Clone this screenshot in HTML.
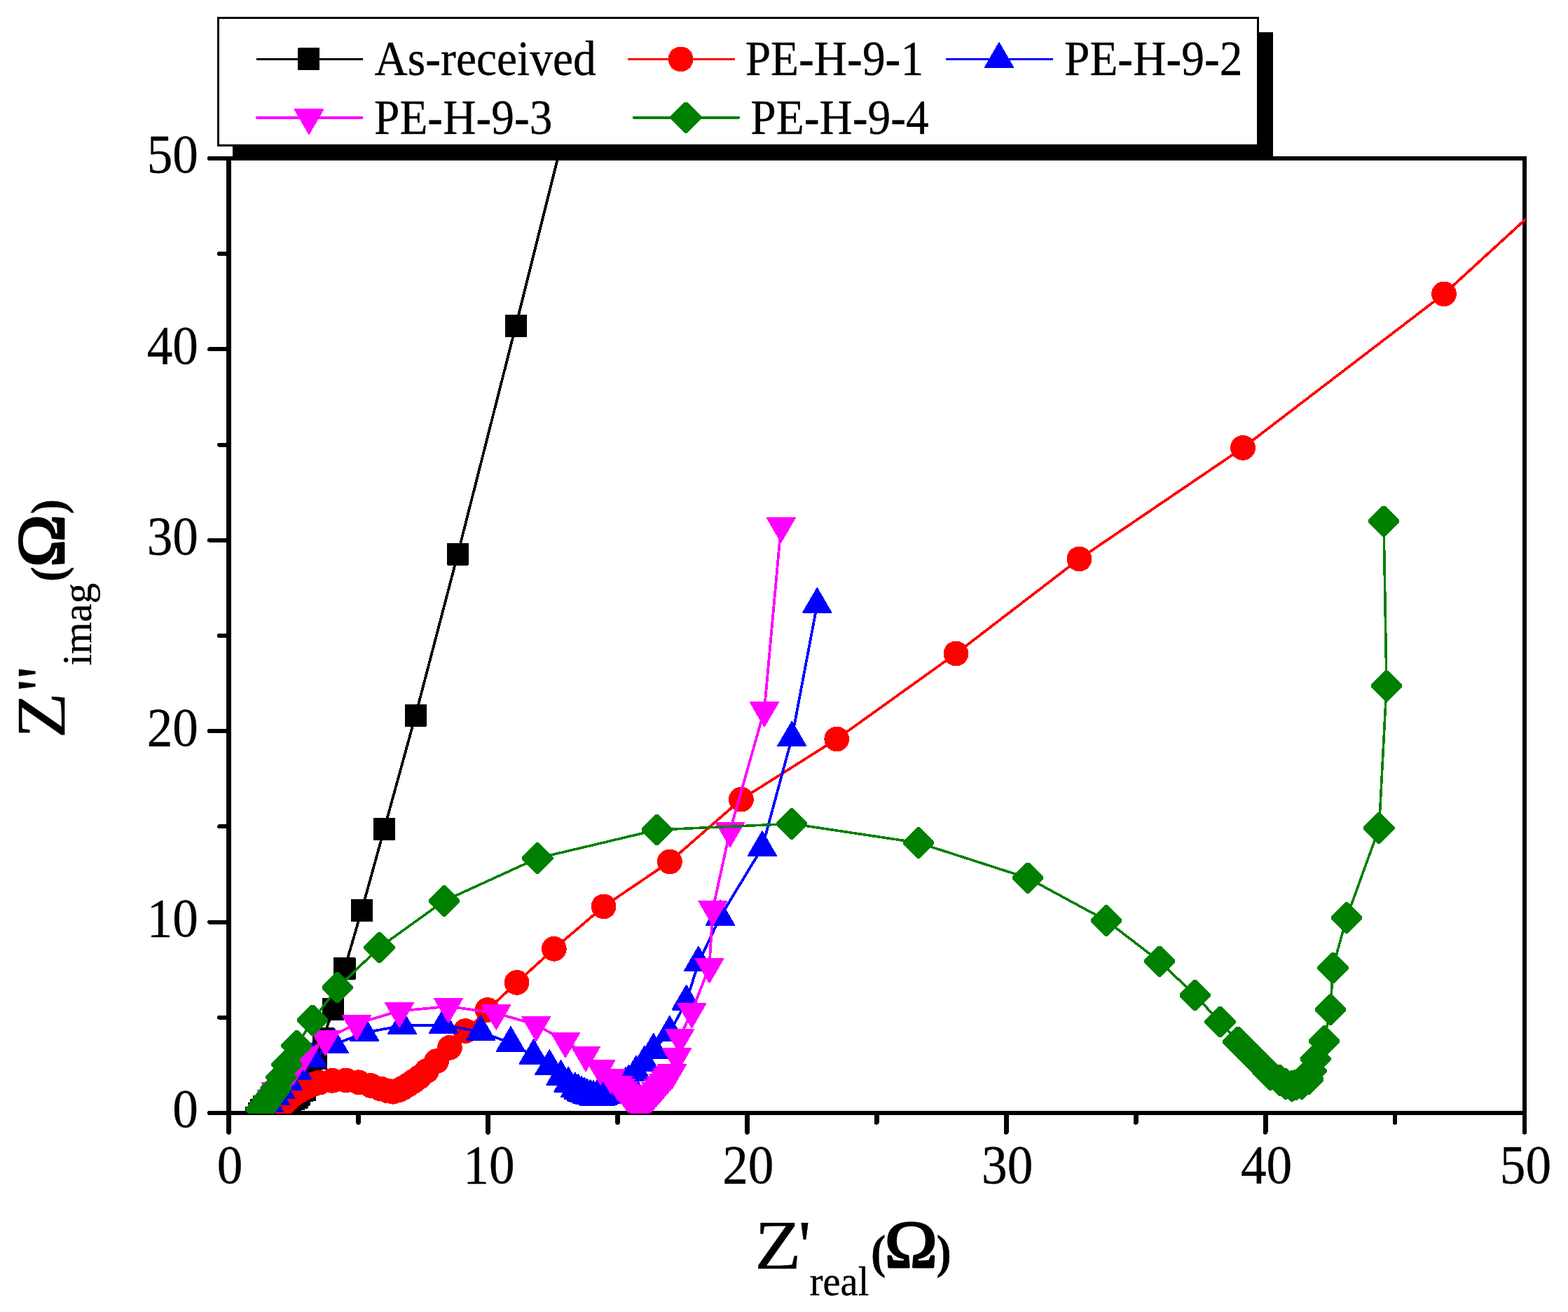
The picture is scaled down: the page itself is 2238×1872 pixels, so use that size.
<!DOCTYPE html>
<html lang="en"><head><meta charset="utf-8"><title>Nyquist plot</title>
<style>html,body{margin:0;padding:0;background:#fff;overflow:hidden}svg{display:block}text{font-family:"Liberation Serif",serif;fill:#000;stroke:#000;stroke-width:0.35px}</style>
</head><body>
<svg width="2238" height="1872" viewBox="0 0 2238 1872" role="img" aria-label="Nyquist impedance plot" shape-rendering="crispEdges">
<rect width="2238" height="1872" fill="#fff"/>
<defs><clipPath id="pc"><rect x="326.5" y="226" width="1851" height="1362.7"/></clipPath></defs>
<g stroke="#000" stroke-width="6" fill="none" stroke-linecap="butt">
<rect x="326.5" y="226" width="1849.5" height="1362"/>
</g>
<line x1="326.5" y1="223" x2="326.5" y2="1591" stroke="#000" stroke-width="7"/>
<g stroke="#000" stroke-width="6" stroke-linecap="round">
<line x1="326.5" y1="1588" x2="326.5" y2="1615.3" stroke-width="6.8"/>
<line x1="326.5" y1="1588" x2="299" y2="1588"/>
<line x1="511.4" y1="1588" x2="511.4" y2="1601.3" stroke-width="6.8"/>
<line x1="326.5" y1="1451.8" x2="313" y2="1451.8"/>
<line x1="696.4" y1="1588" x2="696.4" y2="1615.3" stroke-width="6.8"/>
<line x1="326.5" y1="1315.6" x2="299" y2="1315.6"/>
<line x1="881.4" y1="1588" x2="881.4" y2="1601.3" stroke-width="6.8"/>
<line x1="326.5" y1="1179.4" x2="313" y2="1179.4"/>
<line x1="1066.3" y1="1588" x2="1066.3" y2="1615.3" stroke-width="6.8"/>
<line x1="326.5" y1="1043.2" x2="299" y2="1043.2"/>
<line x1="1251.2" y1="1588" x2="1251.2" y2="1601.3" stroke-width="6.8"/>
<line x1="326.5" y1="907" x2="313" y2="907"/>
<line x1="1436.2" y1="1588" x2="1436.2" y2="1615.3" stroke-width="6.8"/>
<line x1="326.5" y1="770.8" x2="299" y2="770.8"/>
<line x1="1621.2" y1="1588" x2="1621.2" y2="1601.3" stroke-width="6.8"/>
<line x1="326.5" y1="634.6" x2="313" y2="634.6"/>
<line x1="1806.1" y1="1588" x2="1806.1" y2="1615.3" stroke-width="6.8"/>
<line x1="326.5" y1="498.4" x2="299" y2="498.4"/>
<line x1="1991" y1="1588" x2="1991" y2="1601.3" stroke-width="6.8"/>
<line x1="326.5" y1="362.2" x2="313" y2="362.2"/>
<line x1="2176" y1="1588" x2="2176" y2="1615.3" stroke-width="6.8"/>
<line x1="326.5" y1="226" x2="299" y2="226"/>
</g>
<g clip-path="url(#pc)">
<polyline points="365.8,1594.8 369.8,1588.8 372.8,1583.8 376.8,1578.8 381.2,1577.2 385.6,1575.6 390,1574 395,1572.8 400,1571.7 405,1570.5 409.7,1569.7 414.3,1569 419,1568.2 424.3,1565.5 427.3,1561.5 431.3,1556.3 435.3,1555 443,1534 451.1,1510.3 461.1,1481.9 475.5,1440.2 491.9,1381.9 516.2,1299 548.3,1183.3 593.1,1020.7 653.4,790.6 736.2,465 854.6,-8.6" fill="none" stroke="#000000" stroke-width="3.8" stroke-linejoin="round"/>
<g fill="#000000">
<rect x="350.2" y="1578.8" width="31.3" height="32" rx="1"/><rect x="354.2" y="1572.8" width="31.3" height="32" rx="1"/><rect x="357.2" y="1567.8" width="31.3" height="32" rx="1"/><rect x="361.2" y="1562.8" width="31.3" height="32" rx="1"/><rect x="365.6" y="1561.2" width="31.3" height="32" rx="1"/><rect x="370" y="1559.6" width="31.3" height="32" rx="1"/><rect x="374.4" y="1558" width="31.3" height="32" rx="1"/><rect x="379.4" y="1556.8" width="31.3" height="32" rx="1"/><rect x="384.4" y="1555.7" width="31.3" height="32" rx="1"/><rect x="389.4" y="1554.5" width="31.3" height="32" rx="1"/><rect x="394" y="1553.7" width="31.3" height="32" rx="1"/><rect x="398.7" y="1553" width="31.3" height="32" rx="1"/><rect x="403.4" y="1552.2" width="31.3" height="32" rx="1"/><rect x="408.7" y="1549.5" width="31.3" height="32" rx="1"/><rect x="411.7" y="1545.5" width="31.3" height="32" rx="1"/><rect x="415.7" y="1540.3" width="31.3" height="32" rx="1"/><rect x="419.7" y="1539" width="31.3" height="32" rx="1"/><rect x="427.4" y="1518" width="31.3" height="32" rx="1"/><rect x="435.5" y="1494.3" width="31.3" height="32" rx="1"/><rect x="445.5" y="1465.9" width="31.3" height="32" rx="1"/><rect x="459.9" y="1424.2" width="31.3" height="32" rx="1"/><rect x="476.2" y="1365.9" width="31.3" height="32" rx="1"/><rect x="500.6" y="1283" width="31.3" height="32" rx="1"/><rect x="532.6" y="1167.3" width="31.3" height="32" rx="1"/><rect x="577.5" y="1004.7" width="31.3" height="32" rx="1"/><rect x="637.8" y="774.6" width="31.3" height="32" rx="1"/><rect x="720.6" y="449" width="31.3" height="32" rx="1"/><rect x="839" y="-24.6" width="31.3" height="32" rx="1"/>
</g>
<polyline points="394,1586 398.3,1581.3 402.6,1576.6 407.4,1571.8 412.1,1567.1 416.9,1562.3 422,1559.4 427,1556.5 432.1,1553.6 437.5,1550.9 442.8,1548.3 449.4,1546.4 456,1544.6 474.3,1541.8 493.7,1541.4 512,1544.3 529.1,1548.9 543,1553.4 553,1556.3 561,1557.7 568.5,1555.7 575.5,1552.3 582.5,1548 590,1543 598.5,1537 609,1528 623.1,1514.1 641.9,1494.8 664.3,1471 695.7,1441 737.6,1401.9 790.8,1353.8 861.6,1293.4 955.9,1229.5 1057.9,1140.6 1194.3,1054.5 1364.5,932.5 1540.5,797.5 1774,638.9 2061,419.4 2400,109" fill="none" stroke="#ff0000" stroke-width="3.8" stroke-linejoin="round"/>
<g fill="#ff0000">
<circle cx="394" cy="1586" r="17.9"/><circle cx="398.3" cy="1581.3" r="17.9"/><circle cx="402.6" cy="1576.6" r="17.9"/><circle cx="407.4" cy="1571.8" r="17.9"/><circle cx="412.1" cy="1567.1" r="17.9"/><circle cx="416.9" cy="1562.3" r="17.9"/><circle cx="422" cy="1559.4" r="17.9"/><circle cx="427" cy="1556.5" r="17.9"/><circle cx="432.1" cy="1553.6" r="17.9"/><circle cx="437.5" cy="1550.9" r="17.9"/><circle cx="442.8" cy="1548.3" r="17.9"/><circle cx="449.4" cy="1546.4" r="17.9"/><circle cx="456" cy="1544.6" r="17.9"/><circle cx="474.3" cy="1541.8" r="17.9"/><circle cx="493.7" cy="1541.4" r="17.9"/><circle cx="512" cy="1544.3" r="17.9"/><circle cx="529.1" cy="1548.9" r="17.9"/><circle cx="543" cy="1553.4" r="17.9"/><circle cx="553" cy="1556.3" r="17.9"/><circle cx="561" cy="1557.7" r="17.9"/><circle cx="568.5" cy="1555.7" r="17.9"/><circle cx="575.5" cy="1552.3" r="17.9"/><circle cx="582.5" cy="1548" r="17.9"/><circle cx="590" cy="1543" r="17.9"/><circle cx="598.5" cy="1537" r="17.9"/><circle cx="609" cy="1528" r="17.9"/><circle cx="623.1" cy="1514.1" r="17.9"/><circle cx="641.9" cy="1494.8" r="17.9"/><circle cx="664.3" cy="1471" r="17.9"/><circle cx="695.7" cy="1441" r="17.9"/><circle cx="737.6" cy="1401.9" r="17.9"/><circle cx="790.8" cy="1353.8" r="17.9"/><circle cx="861.6" cy="1293.4" r="17.9"/><circle cx="955.9" cy="1229.5" r="17.9"/><circle cx="1057.9" cy="1140.6" r="17.9"/><circle cx="1194.3" cy="1054.5" r="17.9"/><circle cx="1364.5" cy="932.5" r="17.9"/><circle cx="1540.5" cy="797.5" r="17.9"/><circle cx="1774" cy="638.9" r="17.9"/><circle cx="2061" cy="419.4" r="17.9"/><circle cx="2400" cy="109" r="17.9"/>
</g>
<polyline points="376,1584 383.7,1574.5 392.8,1564.6 400.4,1555.5 410.8,1543.3 424,1528.1 446.1,1510.5 476.8,1490.5 520.2,1473.4 574,1463.5 633,1462.4 686.2,1472.4 729,1488.3 761.6,1506.4 784.3,1521.5 800.5,1536.2 811.2,1546.1 820.8,1553.8 825.4,1556.4 830,1559 834,1560.8 838,1562.5 842.5,1563.8 847,1565 852,1565.2 857,1565.3 861.3,1564 865.7,1562.8 870,1561.5 874.7,1558.7 879.3,1555.8 884,1553 888.5,1549.7 892.9,1546.4 897.4,1543.1 908,1530 919.8,1516.1 932.8,1498.1 955.9,1473 979.6,1429 996.9,1373.8 1028,1308.2 1087.9,1209.4 1130.3,1052.8 1166.3,862.3" fill="none" stroke="#0000ff" stroke-width="3.8" stroke-linejoin="round"/>
<g fill="#0000ff" stroke="#0000ff" stroke-width="2" stroke-linejoin="round">
<path d="M355.9 1595.5L396.1 1595.5L376 1561Z"/><path d="M363.6 1586L403.8 1586L383.7 1551.5Z"/><path d="M372.8 1576.1L412.9 1576.1L392.8 1541.6Z"/><path d="M380.3 1567L420.4 1567L400.4 1532.5Z"/><path d="M390.8 1554.8L430.9 1554.8L410.8 1520.3Z"/><path d="M403.9 1539.6L444.1 1539.6L424 1505.1Z"/><path d="M426.1 1522L466.2 1522L446.1 1487.5Z"/><path d="M456.8 1502L496.9 1502L476.8 1467.5Z"/><path d="M500.2 1484.9L540.2 1484.9L520.2 1450.4Z"/><path d="M554 1475L594 1475L574 1440.5Z"/><path d="M613 1473.9L653 1473.9L633 1439.4Z"/><path d="M666.2 1483.9L706.2 1483.9L686.2 1449.4Z"/><path d="M709 1499.8L749 1499.8L729 1465.3Z"/><path d="M741.6 1517.9L781.6 1517.9L761.6 1483.4Z"/><path d="M764.2 1533L804.3 1533L784.3 1498.5Z"/><path d="M780.5 1547.7L820.5 1547.7L800.5 1513.2Z"/><path d="M791.2 1557.6L831.2 1557.6L811.2 1523.1Z"/><path d="M800.8 1565.3L840.8 1565.3L820.8 1530.8Z"/><path d="M805.4 1567.9L845.4 1567.9L825.4 1533.4Z"/><path d="M810 1570.5L850 1570.5L830 1536Z"/><path d="M814 1572.2L854 1572.2L834 1537.8Z"/><path d="M818 1574L858 1574L838 1539.5Z"/><path d="M822.5 1575.2L862.5 1575.2L842.5 1540.8Z"/><path d="M827 1576.5L867 1576.5L847 1542Z"/><path d="M832 1576.7L872 1576.7L852 1542.2Z"/><path d="M837 1576.8L877 1576.8L857 1542.3Z"/><path d="M841.3 1575.5L881.4 1575.5L861.3 1541Z"/><path d="M845.6 1574.3L885.7 1574.3L865.7 1539.8Z"/><path d="M850 1573L890 1573L870 1538.5Z"/><path d="M854.6 1570.2L894.7 1570.2L874.7 1535.7Z"/><path d="M859.3 1567.3L899.4 1567.3L879.3 1532.8Z"/><path d="M864 1564.5L904 1564.5L884 1530Z"/><path d="M868.4 1561.2L908.5 1561.2L888.5 1526.7Z"/><path d="M872.9 1557.9L913 1557.9L892.9 1523.4Z"/><path d="M877.4 1554.6L917.4 1554.6L897.4 1520.1Z"/><path d="M888 1541.5L928 1541.5L908 1507Z"/><path d="M899.8 1527.6L939.8 1527.6L919.8 1493.1Z"/><path d="M912.8 1509.6L952.8 1509.6L932.8 1475.1Z"/><path d="M935.9 1484.5L975.9 1484.5L955.9 1450Z"/><path d="M959.6 1440.5L999.6 1440.5L979.6 1406Z"/><path d="M976.9 1385.3L1016.9 1385.3L996.9 1350.8Z"/><path d="M1008 1319.7L1048 1319.7L1028 1285.2Z"/><path d="M1067.9 1220.9L1108 1220.9L1087.9 1186.4Z"/><path d="M1110.2 1064.3L1150.3 1064.3L1130.3 1029.8Z"/><path d="M1146.2 873.8L1186.3 873.8L1166.3 839.3Z"/>
</g>
<polyline points="382,1578 388,1567.1 394,1556.1 403,1544.1 411,1534 419,1524 434.3,1505.4 464.6,1482.9 509,1460.5 570,1442.4 640,1436 708.3,1445.5 765.3,1462.2 807,1485.5 836.1,1505 857.3,1524.5 871.8,1537.1 882,1547 886,1551 890,1555 893.5,1559.8 897,1564.5 901,1566.8 905,1569 909,1570 913,1571 917,1570 921,1569 925,1566.8 929,1564.5 932.7,1560.3 936.3,1556.2 940,1552 943.3,1548 946.7,1544 950,1540 953,1536.8 956,1533.5 959,1530.3 966,1507.4 970.1,1480.3 987.4,1443.4 1012.5,1379.1 1017.4,1297.1 1042,1185.2 1090.9,1013.5 1114.8,750.3" fill="none" stroke="#ff00ff" stroke-width="3.8" stroke-linejoin="round"/>
<g fill="#ff00ff" stroke="#ff00ff" stroke-width="2" stroke-linejoin="round">
<path d="M361.9 1566.5L402.1 1566.5L382 1601Z"/><path d="M367.9 1555.6L408.1 1555.6L388 1590.1Z"/><path d="M373.9 1544.6L414.1 1544.6L394 1579.1Z"/><path d="M382.9 1532.6L423.1 1532.6L403 1567.1Z"/><path d="M390.9 1522.5L431.1 1522.5L411 1557Z"/><path d="M398.9 1512.5L439.1 1512.5L419 1547Z"/><path d="M414.2 1493.9L454.4 1493.9L434.3 1528.4Z"/><path d="M444.6 1471.4L484.7 1471.4L464.6 1505.9Z"/><path d="M488.9 1449L529 1449L509 1483.5Z"/><path d="M550 1430.9L590 1430.9L570 1465.4Z"/><path d="M620 1424.5L660 1424.5L640 1459Z"/><path d="M688.2 1434L728.3 1434L708.3 1468.5Z"/><path d="M745.2 1450.7L785.3 1450.7L765.3 1485.2Z"/><path d="M787 1474L827 1474L807 1508.5Z"/><path d="M816.1 1493.5L856.1 1493.5L836.1 1528Z"/><path d="M837.2 1513L877.3 1513L857.3 1547.5Z"/><path d="M851.8 1525.6L891.8 1525.6L871.8 1560.1Z"/><path d="M862 1535.5L902 1535.5L882 1570Z"/><path d="M866 1539.5L906 1539.5L886 1574Z"/><path d="M870 1543.5L910 1543.5L890 1578Z"/><path d="M873.5 1548.2L913.5 1548.2L893.5 1582.8Z"/><path d="M877 1553L917 1553L897 1587.5Z"/><path d="M881 1555.2L921 1555.2L901 1589.8Z"/><path d="M885 1557.5L925 1557.5L905 1592Z"/><path d="M889 1558.5L929 1558.5L909 1593Z"/><path d="M893 1559.5L933 1559.5L913 1594Z"/><path d="M897 1558.5L937 1558.5L917 1593Z"/><path d="M901 1557.5L941 1557.5L921 1592Z"/><path d="M905 1555.2L945 1555.2L925 1589.8Z"/><path d="M909 1553L949 1553L929 1587.5Z"/><path d="M912.6 1548.8L952.7 1548.8L932.7 1583.3Z"/><path d="M916.3 1544.7L956.4 1544.7L936.3 1579.2Z"/><path d="M920 1540.5L960 1540.5L940 1575Z"/><path d="M923.3 1536.5L963.4 1536.5L943.3 1571Z"/><path d="M926.6 1532.5L966.7 1532.5L946.7 1567Z"/><path d="M930 1528.5L970 1528.5L950 1563Z"/><path d="M933 1525.3L973 1525.3L953 1559.8Z"/><path d="M936 1522L976 1522L956 1556.5Z"/><path d="M939 1518.8L979 1518.8L959 1553.3Z"/><path d="M946 1495.9L986 1495.9L966 1530.4Z"/><path d="M950.1 1468.8L990.1 1468.8L970.1 1503.3Z"/><path d="M967.4 1431.9L1007.4 1431.9L987.4 1466.4Z"/><path d="M992.5 1367.6L1032.5 1367.6L1012.5 1402.1Z"/><path d="M997.4 1285.6L1037.5 1285.6L1017.4 1320.1Z"/><path d="M1022 1173.7L1062 1173.7L1042 1208.2Z"/><path d="M1070.9 1002L1111 1002L1090.9 1036.5Z"/><path d="M1094.8 738.8L1134.8 738.8L1114.8 773.3Z"/>
</g>
<polyline points="372.6,1583 375.6,1578.8 378.6,1574.5 381.6,1570.3 384.6,1566.1 387.6,1561.9 390.6,1557.6 393.6,1553.4 401.4,1537.4 409.3,1519.2 423.3,1492.2 446.1,1455.9 481.9,1409.1 541.4,1352 633.8,1285.5 767.4,1224.5 937.9,1184 1130.1,1175.4 1310.8,1202.5 1467,1252.8 1579.1,1313.5 1654.9,1371.7 1705.7,1420 1741.5,1458.2 1767.3,1486.7 1771.3,1490.7 1775.2,1494.7 1779.2,1498.6 1783.1,1502.6 1787.1,1506.6 1791.5,1511.1 1795.8,1515.6 1800.2,1520 1804.6,1524.5 1808.9,1529 1813.3,1533.5 1826.6,1541.4 1835.1,1546.5 1844.1,1549.5 1849.7,1547.8 1858.3,1546.7 1867.3,1540.2 1871.5,1527.8 1877.6,1511.4 1889.7,1485.4 1899,1441 1902.4,1380.7 1922.1,1309.4 1968.4,1181.5 1979,978.7 1975,743.6" fill="none" stroke="#008000" stroke-width="3.6" stroke-linejoin="round"/>
<g fill="#008000">
<path d="M350.5 1581.1L370.7 1560.9L374.5 1560.9L394.7 1581.1L394.7 1584.9L374.5 1605.1L370.7 1605.1L350.5 1584.9Z"/><path d="M353.5 1576.9L373.7 1556.7L377.5 1556.7L397.7 1576.9L397.7 1580.7L377.5 1600.9L373.7 1600.9L353.5 1580.7Z"/><path d="M356.5 1572.6L376.7 1552.4L380.5 1552.4L400.7 1572.6L400.7 1576.4L380.5 1596.6L376.7 1596.6L356.5 1576.4Z"/><path d="M359.5 1568.4L379.7 1548.2L383.5 1548.2L403.7 1568.4L403.7 1572.2L383.5 1592.4L379.7 1592.4L359.5 1572.2Z"/><path d="M362.5 1564.2L382.7 1544L386.5 1544L406.7 1564.2L406.7 1568L386.5 1588.2L382.7 1588.2L362.5 1568Z"/><path d="M365.5 1560L385.7 1539.8L389.5 1539.8L409.7 1560L409.7 1563.8L389.5 1584L385.7 1584L365.5 1563.8Z"/><path d="M368.5 1555.7L388.7 1535.5L392.5 1535.5L412.7 1555.7L412.7 1559.5L392.5 1579.7L388.7 1579.7L368.5 1559.5Z"/><path d="M371.5 1551.5L391.7 1531.3L395.5 1531.3L415.7 1551.5L415.7 1555.3L395.5 1575.5L391.7 1575.5L371.5 1555.3Z"/><path d="M379.3 1535.5L399.5 1515.3L403.3 1515.3L423.5 1535.5L423.5 1539.3L403.3 1559.5L399.5 1559.5L379.3 1539.3Z"/><path d="M387.2 1517.3L407.4 1497.1L411.2 1497.1L431.4 1517.3L431.4 1521.1L411.2 1541.3L407.4 1541.3L387.2 1521.1Z"/><path d="M401.2 1490.3L421.4 1470.1L425.2 1470.1L445.4 1490.3L445.4 1494.1L425.2 1514.3L421.4 1514.3L401.2 1494.1Z"/><path d="M424 1454L444.2 1433.8L448 1433.8L468.2 1454L468.2 1457.8L448 1478L444.2 1478L424 1457.8Z"/><path d="M459.8 1407.2L480 1387L483.8 1387L504 1407.2L504 1411L483.8 1431.2L480 1431.2L459.8 1411Z"/><path d="M519.3 1350.1L539.5 1329.9L543.3 1329.9L563.5 1350.1L563.5 1353.9L543.3 1374.1L539.5 1374.1L519.3 1353.9Z"/><path d="M611.7 1283.6L631.9 1263.4L635.7 1263.4L655.9 1283.6L655.9 1287.4L635.7 1307.6L631.9 1307.6L611.7 1287.4Z"/><path d="M745.3 1222.6L765.5 1202.4L769.3 1202.4L789.5 1222.6L789.5 1226.4L769.3 1246.6L765.5 1246.6L745.3 1226.4Z"/><path d="M915.8 1182.1L936 1161.9L939.8 1161.9L960 1182.1L960 1185.9L939.8 1206.1L936 1206.1L915.8 1185.9Z"/><path d="M1108 1173.5L1128.2 1153.3L1132 1153.3L1152.2 1173.5L1152.2 1177.3L1132 1197.5L1128.2 1197.5L1108 1177.3Z"/><path d="M1288.7 1200.6L1308.9 1180.4L1312.7 1180.4L1332.9 1200.6L1332.9 1204.4L1312.7 1224.6L1308.9 1224.6L1288.7 1204.4Z"/><path d="M1444.9 1250.9L1465.1 1230.7L1468.9 1230.7L1489.1 1250.9L1489.1 1254.7L1468.9 1274.9L1465.1 1274.9L1444.9 1254.7Z"/><path d="M1557 1311.6L1577.2 1291.4L1581 1291.4L1601.2 1311.6L1601.2 1315.4L1581 1335.6L1577.2 1335.6L1557 1315.4Z"/><path d="M1632.8 1369.8L1653 1349.6L1656.8 1349.6L1677 1369.8L1677 1373.6L1656.8 1393.8L1653 1393.8L1632.8 1373.6Z"/><path d="M1683.6 1418.1L1703.8 1397.9L1707.6 1397.9L1727.8 1418.1L1727.8 1421.9L1707.6 1442.1L1703.8 1442.1L1683.6 1421.9Z"/><path d="M1719.4 1456.3L1739.6 1436.1L1743.4 1436.1L1763.6 1456.3L1763.6 1460.1L1743.4 1480.3L1739.6 1480.3L1719.4 1460.1Z"/><path d="M1745.2 1484.8L1765.4 1464.6L1769.2 1464.6L1789.4 1484.8L1789.4 1488.6L1769.2 1508.8L1765.4 1508.8L1745.2 1488.6Z"/><path d="M1749.2 1488.8L1769.4 1468.6L1773.2 1468.6L1793.4 1488.8L1793.4 1492.6L1773.2 1512.8L1769.4 1512.8L1749.2 1492.6Z"/><path d="M1753.1 1492.8L1773.3 1472.6L1777.1 1472.6L1797.3 1492.8L1797.3 1496.6L1777.1 1516.8L1773.3 1516.8L1753.1 1496.6Z"/><path d="M1757.1 1496.7L1777.3 1476.5L1781.1 1476.5L1801.3 1496.7L1801.3 1500.5L1781.1 1520.7L1777.3 1520.7L1757.1 1500.5Z"/><path d="M1761 1500.7L1781.2 1480.5L1785 1480.5L1805.2 1500.7L1805.2 1504.5L1785 1524.7L1781.2 1524.7L1761 1504.5Z"/><path d="M1765 1504.7L1785.2 1484.5L1789 1484.5L1809.2 1504.7L1809.2 1508.5L1789 1528.7L1785.2 1528.7L1765 1508.5Z"/><path d="M1769.4 1509.2L1789.6 1489L1793.4 1489L1813.6 1509.2L1813.6 1513L1793.4 1533.2L1789.6 1533.2L1769.4 1513Z"/><path d="M1773.7 1513.7L1793.9 1493.5L1797.7 1493.5L1817.9 1513.7L1817.9 1517.5L1797.7 1537.7L1793.9 1537.7L1773.7 1517.5Z"/><path d="M1778.1 1518.1L1798.3 1498L1802.1 1498L1822.3 1518.1L1822.3 1522L1802.1 1542.1L1798.3 1542.1L1778.1 1522Z"/><path d="M1782.5 1522.6L1802.7 1502.4L1806.5 1502.4L1826.7 1522.6L1826.7 1526.4L1806.5 1546.6L1802.7 1546.6L1782.5 1526.4Z"/><path d="M1786.8 1527.1L1807 1506.9L1810.8 1506.9L1831 1527.1L1831 1530.9L1810.8 1551.1L1807 1551.1L1786.8 1530.9Z"/><path d="M1791.2 1531.6L1811.4 1511.4L1815.2 1511.4L1835.4 1531.6L1835.4 1535.4L1815.2 1555.6L1811.4 1555.6L1791.2 1535.4Z"/><path d="M1804.5 1539.5L1824.7 1519.3L1828.5 1519.3L1848.7 1539.5L1848.7 1543.3L1828.5 1563.5L1824.7 1563.5L1804.5 1543.3Z"/><path d="M1813 1544.6L1833.2 1524.4L1837 1524.4L1857.2 1544.6L1857.2 1548.4L1837 1568.6L1833.2 1568.6L1813 1548.4Z"/><path d="M1822 1547.6L1842.2 1527.4L1846 1527.4L1866.2 1547.6L1866.2 1551.4L1846 1571.6L1842.2 1571.6L1822 1551.4Z"/><path d="M1827.6 1545.9L1847.8 1525.7L1851.6 1525.7L1871.8 1545.9L1871.8 1549.7L1851.6 1569.9L1847.8 1569.9L1827.6 1549.7Z"/><path d="M1836.2 1544.8L1856.4 1524.6L1860.2 1524.6L1880.4 1544.8L1880.4 1548.6L1860.2 1568.8L1856.4 1568.8L1836.2 1548.6Z"/><path d="M1845.2 1538.3L1865.4 1518.1L1869.2 1518.1L1889.4 1538.3L1889.4 1542.1L1869.2 1562.3L1865.4 1562.3L1845.2 1542.1Z"/><path d="M1849.4 1525.9L1869.6 1505.7L1873.4 1505.7L1893.6 1525.9L1893.6 1529.7L1873.4 1549.9L1869.6 1549.9L1849.4 1529.7Z"/><path d="M1855.5 1509.5L1875.7 1489.3L1879.5 1489.3L1899.7 1509.5L1899.7 1513.3L1879.5 1533.5L1875.7 1533.5L1855.5 1513.3Z"/><path d="M1867.6 1483.5L1887.8 1463.3L1891.6 1463.3L1911.8 1483.5L1911.8 1487.3L1891.6 1507.5L1887.8 1507.5L1867.6 1487.3Z"/><path d="M1876.9 1439.1L1897.1 1418.9L1900.9 1418.9L1921.1 1439.1L1921.1 1442.9L1900.9 1463.1L1897.1 1463.1L1876.9 1442.9Z"/><path d="M1880.3 1378.8L1900.5 1358.6L1904.3 1358.6L1924.5 1378.8L1924.5 1382.6L1904.3 1402.8L1900.5 1402.8L1880.3 1382.6Z"/><path d="M1900 1307.5L1920.2 1287.3L1924 1287.3L1944.2 1307.5L1944.2 1311.3L1924 1331.5L1920.2 1331.5L1900 1311.3Z"/><path d="M1946.3 1179.6L1966.5 1159.4L1970.3 1159.4L1990.5 1179.6L1990.5 1183.4L1970.3 1203.6L1966.5 1203.6L1946.3 1183.4Z"/><path d="M1956.9 976.8L1977.1 956.6L1980.9 956.6L2001.1 976.8L2001.1 980.6L1980.9 1000.8L1977.1 1000.8L1956.9 980.6Z"/><path d="M1952.9 741.7L1973.1 721.5L1976.9 721.5L1997.1 741.7L1997.1 745.5L1976.9 765.7L1973.1 765.7L1952.9 745.5Z"/>
</g>
</g>
<rect x="332" y="45.7" width="1485" height="183.3" fill="#000"/>
<rect x="311.5" y="25.5" width="1484" height="181.5" fill="#fff" stroke="#000" stroke-width="3"/>
<line x1="365.5" y1="84.4" x2="518" y2="84.4" stroke="#000000" stroke-width="3.1" stroke-linecap="butt"/>
<g fill="#000000"><rect x="424.9" y="68.4" width="31.3" height="32" rx="1"/></g>
<line x1="896" y1="84.4" x2="1049" y2="84.4" stroke="#ff0000" stroke-width="3.2" stroke-linecap="butt"/>
<g fill="#ff0000"><circle cx="971.6" cy="84.4" r="17.9"/></g>
<line x1="1350" y1="84.4" x2="1503" y2="84.4" stroke="#0000ff" stroke-width="3.2" stroke-linecap="butt"/>
<g fill="#0000ff" stroke="#0000ff" stroke-width="2" stroke-linejoin="round"><path d="M1406 95.9L1446 95.9L1426 61.4Z"/></g>
<line x1="367" y1="167.9" x2="516.5" y2="167.9" stroke="#ff00ff" stroke-width="4" stroke-linecap="round"/>
<g fill="#ff00ff" stroke="#ff00ff" stroke-width="2" stroke-linejoin="round"><path d="M420.9 156.4L461.1 156.4L441 190.9Z"/></g>
<line x1="904.7" y1="167.9" x2="1054.3" y2="167.9" stroke="#008000" stroke-width="4" stroke-linecap="round"/>
<g fill="#008000"><path d="M956.9 166L977.1 145.8L980.9 145.8L1001.1 166L1001.1 169.8L980.9 190L977.1 190L956.9 169.8Z"/></g>
<text transform="translate(534.6 107) scale(0.935 1)" font-size="70" text-anchor="start">As-received</text>
<text transform="translate(1063.7 107) scale(0.935 1)" font-size="70" text-anchor="start">PE-H-9-1</text>
<text transform="translate(1519 107) scale(0.935 1)" font-size="70" text-anchor="start">PE-H-9-2</text>
<text transform="translate(534 190.8) scale(0.935 1)" font-size="70" text-anchor="start">PE-H-9-3</text>
<text transform="translate(1071.3 190.8) scale(0.935 1)" font-size="70" text-anchor="start">PE-H-9-4</text>
<text transform="translate(328 1688) scale(0.94 1)" font-size="78" text-anchor="middle">0</text>
<text transform="translate(283 1608.4) scale(0.94 1)" font-size="78" text-anchor="end">0</text>
<text transform="translate(697.9 1688) scale(0.94 1)" font-size="78" text-anchor="middle">10</text>
<text transform="translate(283 1336) scale(0.94 1)" font-size="78" text-anchor="end">10</text>
<text transform="translate(1067.8 1688) scale(0.94 1)" font-size="78" text-anchor="middle">20</text>
<text transform="translate(283 1063.6) scale(0.94 1)" font-size="78" text-anchor="end">20</text>
<text transform="translate(1437.7 1688) scale(0.94 1)" font-size="78" text-anchor="middle">30</text>
<text transform="translate(283 791.2) scale(0.94 1)" font-size="78" text-anchor="end">30</text>
<text transform="translate(1807.6 1688) scale(0.94 1)" font-size="78" text-anchor="middle">40</text>
<text transform="translate(283 518.8) scale(0.94 1)" font-size="78" text-anchor="end">40</text>
<text transform="translate(2177.5 1688) scale(0.94 1)" font-size="78" text-anchor="middle">50</text>
<text transform="translate(283 246.4) scale(0.94 1)" font-size="78" text-anchor="end">50</text>
<g id="xt">
<text transform="translate(1077 1809.7) scale(1.09 1)" font-size="100" text-anchor="start">Z</text>
<text transform="translate(1139.5 1809.7) scale(1.0 1)" font-size="100" text-anchor="start">'</text>
<text transform="translate(1155.8 1847.8) scale(0.94 1)" font-size="60" text-anchor="start">real</text>
<text transform="translate(1243 1808.8) scale(0.94 1)" font-size="68" text-anchor="start" font-weight="bold">(</text>
<text transform="translate(1262.7 1808.2) scale(1.065 1)" font-size="95" text-anchor="start" style="stroke-width:3px;stroke-linejoin:round">Ω</text>
<text transform="translate(1336.5 1808.8) scale(0.94 1)" font-size="68" text-anchor="start" font-weight="bold">)</text>
</g>
<g id="yt" transform="translate(92.2 1053) rotate(-90)">
<text transform="translate(-0.5 0) scale(1.07 1)" font-size="100" text-anchor="start">Z</text>
<text transform="translate(66.3 0) scale(1.0 1)" font-size="100" text-anchor="start">''</text>
<text transform="translate(103.5 38.2) scale(0.98 1)" font-size="60" text-anchor="start">imag</text>
<text transform="translate(223 -0.9) scale(0.94 1)" font-size="68" text-anchor="start" font-weight="bold">(</text>
<text transform="translate(243.7 -1.5) scale(1.065 1)" font-size="95" text-anchor="start" style="stroke-width:3px;stroke-linejoin:round">Ω</text>
<text transform="translate(319.5 -0.9) scale(0.94 1)" font-size="68" text-anchor="start" font-weight="bold">)</text>
</g>
</svg></body></html>
